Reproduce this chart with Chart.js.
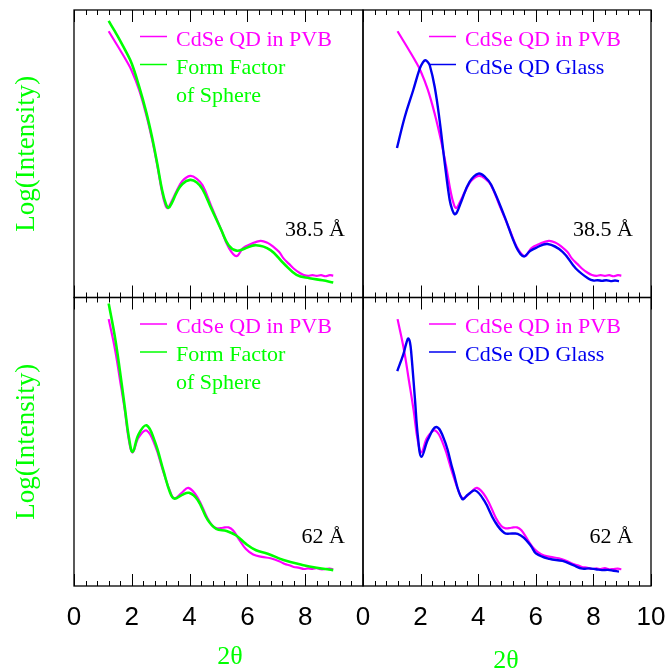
<!DOCTYPE html>
<html>
<head>
<meta charset="utf-8">
<script src="https://cdn.jsdelivr.net/npm/chart.js@4"></script>
<style>
  body { margin: 0; background: #fff; }
  #wrap { position: relative; width: 670px; height: 672px; }
  #wrap canvas { position: absolute; left: 0; top: 0; }
</style>
</head>
<body>
<div id="wrap">
  <canvas id="pTL" width="670" height="672"></canvas>
  <canvas id="pTR" width="670" height="672"></canvas>
  <canvas id="pBL" width="670" height="672"></canvas>
  <canvas id="pBR" width="670" height="672"></canvas>
</div>
<script>
// ── datos (2θ en grados, log(I) en unidades arbitrarias 0-100) ──
const xTickLabels = [0, 2, 4, 6, 8, 10];
const xMinorStep = 0.4;

// 38.5 Å
const pvb385X = [1.2, 1.4, 1.6, 1.8, 2.0, 2.25, 2.5, 2.7, 2.88, 3.05, 3.16, 3.24, 3.38, 3.55, 3.75, 4.02, 4.25, 4.45, 4.75, 5.1, 5.35, 5.62, 5.85, 6.1, 6.45, 6.7, 6.9, 7.1, 7.25, 7.45, 7.6, 7.8, 7.95, 8.1, 8.25, 8.4, 8.55, 8.7, 8.85, 8.97];
const pvb385Y = [92.6, 89.3, 86.0, 82.6, 78.8, 72.3, 63.5, 55.0, 46.0, 36.5, 32.2, 31.1, 33.5, 37.0, 40.5, 42.3, 41.3, 39.0, 31.8, 23.4, 17.4, 14.4, 17.2, 18.5, 19.7, 19.0, 17.6, 15.8, 13.6, 11.6, 10.1, 8.6, 7.8, 7.5, 7.8, 7.5, 7.8, 7.4, 7.8, 7.6];
const ff385X = [1.2, 1.4, 1.6, 1.8, 2.0, 2.25, 2.5, 2.7, 2.88, 3.05, 3.18, 3.27, 3.4, 3.55, 3.75, 4.02, 4.25, 4.45, 4.75, 5.1, 5.35, 5.62, 5.9, 6.3, 6.8, 7.25, 7.7, 8.15, 8.6, 8.97];
const ff385Y = [96.2, 92.8, 89.3, 85.5, 81.3, 73.5, 64.5, 55.8, 46.6, 37.3, 32.5, 31.2, 33.2, 36.5, 39.5, 40.9, 40.0, 37.6, 31.0, 23.4, 18.2, 16.3, 17.0, 18.2, 16.5, 11.9, 7.9, 6.7, 6.0, 5.2];
const glass385X = [1.18, 1.45, 1.74, 1.97, 2.08, 2.16, 2.24, 2.32, 2.49, 2.66, 2.84, 3.01, 3.1, 3.18, 3.26, 3.41, 3.7, 4.01, 4.25, 4.45, 4.91, 5.32, 5.58, 5.8, 6.01, 6.41, 6.93, 7.39, 7.85, 8.0, 8.15, 8.3, 8.45, 8.6, 8.75, 8.89];
const glass385Y = [52.0, 62.8, 72.0, 79.6, 81.8, 82.5, 82.0, 80.7, 73.2, 61.6, 46.6, 33.9, 30.5, 29.0, 29.6, 33.3, 40.2, 43.1, 41.8, 39.2, 28.3, 17.6, 14.3, 16.2, 17.3, 18.6, 15.9, 10.1, 6.4, 5.9, 6.0, 5.8, 6.0, 5.7, 5.9, 5.7];

// 62 Å
const pvb62X = [1.2, 1.42, 1.59, 1.76, 1.9, 2.03, 2.23, 2.51, 2.8, 3.1, 3.32, 3.47, 3.73, 3.96, 4.28, 4.62, 4.8, 4.95, 5.15, 5.35, 5.5, 5.72, 5.95, 6.2, 6.5, 6.8, 7.1, 7.3, 7.45, 7.6, 7.8, 7.95, 8.1, 8.25, 8.4, 8.55, 8.7, 8.85, 8.97];
const pvb62Y = [92.5, 82.0, 71.5, 60.7, 50.5, 46.3, 51.4, 53.9, 48.8, 39.3, 32.9, 30.4, 32.3, 34.0, 30.6, 23.5, 20.8, 20.0, 20.2, 20.3, 19.3, 16.0, 12.8, 10.9, 10.1, 9.6, 8.6, 7.6, 7.2, 6.6, 6.3, 5.9, 6.1, 5.9, 6.2, 5.8, 5.9, 6.0, 5.8];
const ff62X = [1.2, 1.42, 1.59, 1.76, 1.9, 2.03, 2.23, 2.51, 2.8, 3.1, 3.32, 3.47, 3.73, 3.98, 4.28, 4.62, 4.92, 5.28, 5.6, 5.95, 6.3, 6.7, 7.25, 7.9, 8.4, 8.97];
const ff62Y = [97.9, 86.1, 74.5, 61.8, 51.5, 46.5, 52.5, 55.7, 50.0, 39.8, 32.5, 30.3, 31.5, 32.3, 29.8, 23.0, 19.8, 19.1, 17.6, 14.6, 12.4, 11.2, 9.0, 7.3, 6.3, 5.5];
const glass62X = [1.19, 1.4, 1.5, 1.57, 1.63, 1.68, 1.8, 1.91, 2.03, 2.26, 2.55, 2.84, 3.13, 3.44, 3.66, 3.9, 4.22, 4.57, 4.91, 5.2, 5.37, 5.58, 5.84, 6.01, 6.47, 6.93, 7.3, 7.62, 7.85, 8.09, 8.3, 8.5, 8.7, 8.89];
const glass62Y = [74.5, 80.3, 84.0, 85.8, 84.5, 80.3, 65.3, 51.4, 44.8, 50.9, 55.1, 50.2, 39.8, 30.2, 31.8, 33.1, 29.4, 22.5, 18.4, 18.2, 18.1, 16.8, 13.8, 11.3, 9.4, 8.7, 7.2, 6.0, 6.1, 5.8, 5.5, 5.6, 5.3, 5.0];

// colores
const MAGENTA = '#ff00ff';
const GREEN = '#00ff00';
const BLUE = '#0000f0';

const W = 670, H = 672;
const SERIF = '"Liberation Serif", "Times New Roman", serif';
const SANS = '"Liberation Sans", Arial, sans-serif';

// marcas hacia dentro, bordes, leyenda y textos de cada panel
const decoPlugin = {
  id: 'deco',
  afterDraw(chart, args, o) {
    const { ctx, chartArea: a, scales: { x } } = chart;
    ctx.save();
    ctx.strokeStyle = '#000';
    ctx.lineWidth = 1;
    const n = Math.round(10 / xMinorStep);
    ctx.beginPath();
    for (let i = 0; i <= n; i++) {
      const px = Math.round(x.getPixelForValue(i * xMinorStep)) + 0.5;
      const len = i % 5 === 0 ? 12 : 5;
      ctx.moveTo(px, a.top); ctx.lineTo(px, a.top + len);
      ctx.moveTo(px, a.bottom); ctx.lineTo(px, a.bottom - len);
    }
    ctx.stroke();
    ctx.lineWidth = 1.3;
    ctx.strokeRect(a.left, a.top, a.width, a.height);

    // leyenda
    ctx.font = '22px ' + SERIF;
    ctx.textBaseline = 'alphabetic';
    ctx.textAlign = 'left';
    o.legend.forEach((it, i) => {
      const base = a.top + 35.5 + i * 28;
      if (it.line) {
        ctx.strokeStyle = it.color;
        ctx.lineWidth = 1.5;
        ctx.beginPath();
        ctx.moveTo(a.left + 66, base - 9); ctx.lineTo(a.left + 93, base - 9);
        ctx.stroke();
      }
      ctx.fillStyle = it.color;
      ctx.fillText(it.text, a.left + 102, base);
    });

    // tamaño de partícula
    ctx.fillStyle = '#000';
    ctx.textAlign = 'right';
    ctx.fillText(o.size, a.right - 18, a.bottom - o.sizeUp);

    // etiquetas del eje x
    if (o.bottom) {
      ctx.font = '26px ' + SANS;
      ctx.textAlign = 'center';
      ctx.textBaseline = 'middle';
      xTickLabels.forEach(v => {
        if (o.left && v === 10) return;
        ctx.fillText(String(v), x.getPixelForValue(v), a.bottom + 32);
      });
      ctx.font = '26px ' + SERIF;
      ctx.fillStyle = GREEN;
      ctx.fillText('2\u03b8', o.titleX, o.titleY);
    }
    // título del eje y
    if (o.left) {
      ctx.font = '27px ' + SERIF;
      ctx.fillStyle = GREEN;
      ctx.textAlign = 'center';
      ctx.textBaseline = 'middle';
      ctx.translate(27, (a.top + a.bottom) / 2);
      ctx.rotate(-Math.PI / 2);
      ctx.fillText('Log(Intensity)', 0, 0);
    }
    ctx.restore();
  }
};

function serie(xs, ys, color, width) {
  return {
    data: xs.map((v, i) => ({ x: v, y: ys[i] })),
    borderColor: color,
    borderWidth: width,
    pointRadius: 0,
    fill: false,
    tension: 0.4
  };
}

function panel(id, box, datasets, deco) {
  new Chart(document.getElementById(id), {
    type: 'line',
    data: { datasets },
    options: {
      responsive: false,
      animation: false,
      devicePixelRatio: 1,
      layout: { padding: { left: box.l, top: box.t, right: W - box.r, bottom: H - box.b } },
      plugins: { legend: { display: false }, tooltip: { enabled: false }, deco },
      scales: {
        x: { type: 'linear', display: false, min: 0, max: 10 },
        y: { type: 'linear', display: false, min: 0, max: 100 }
      }
    },
    plugins: [decoPlugin]
  });
}

const legPVB = { text: 'CdSe QD in PVB', color: MAGENTA, line: true };
const legFF = [{ text: 'Form Factor', color: GREEN, line: true }, { text: 'of Sphere', color: GREEN, line: false }];
const legGlass = { text: 'CdSe QD Glass', color: BLUE, line: true };

panel('pTL', { l: 74, t: 10, r: 363, b: 297.5 },
  [serie(ff385X, ff385Y, GREEN, 2.6), serie(pvb385X, pvb385Y, MAGENTA, 2.2)],
  { legend: [legPVB, ...legFF], size: '38.5 \u00c5', sizeUp: 62, left: true, bottom: false });

panel('pTR', { l: 363, t: 10, r: 651, b: 297.5 },
  [serie(glass385X, glass385Y, BLUE, 2.4), serie(pvb385X, pvb385Y, MAGENTA, 2.2)],
  { legend: [legPVB, legGlass], size: '38.5 \u00c5', sizeUp: 62, left: false, bottom: false });

panel('pBL', { l: 74, t: 297.5, r: 363, b: 586 },
  [serie(ff62X, ff62Y, GREEN, 2.6), serie(pvb62X, pvb62Y, MAGENTA, 2.2)],
  { legend: [legPVB, ...legFF], size: '62 \u00c5', sizeUp: 43, left: true, bottom: true, titleX: 230, titleY: 657 });

panel('pBR', { l: 363, t: 297.5, r: 651, b: 586 },
  [serie(glass62X, glass62Y, BLUE, 2.4), serie(pvb62X, pvb62Y, MAGENTA, 2.2)],
  { legend: [legPVB, legGlass], size: '62 \u00c5', sizeUp: 43, left: false, bottom: true, titleX: 506, titleY: 661 });
</script>
</body>
</html>
